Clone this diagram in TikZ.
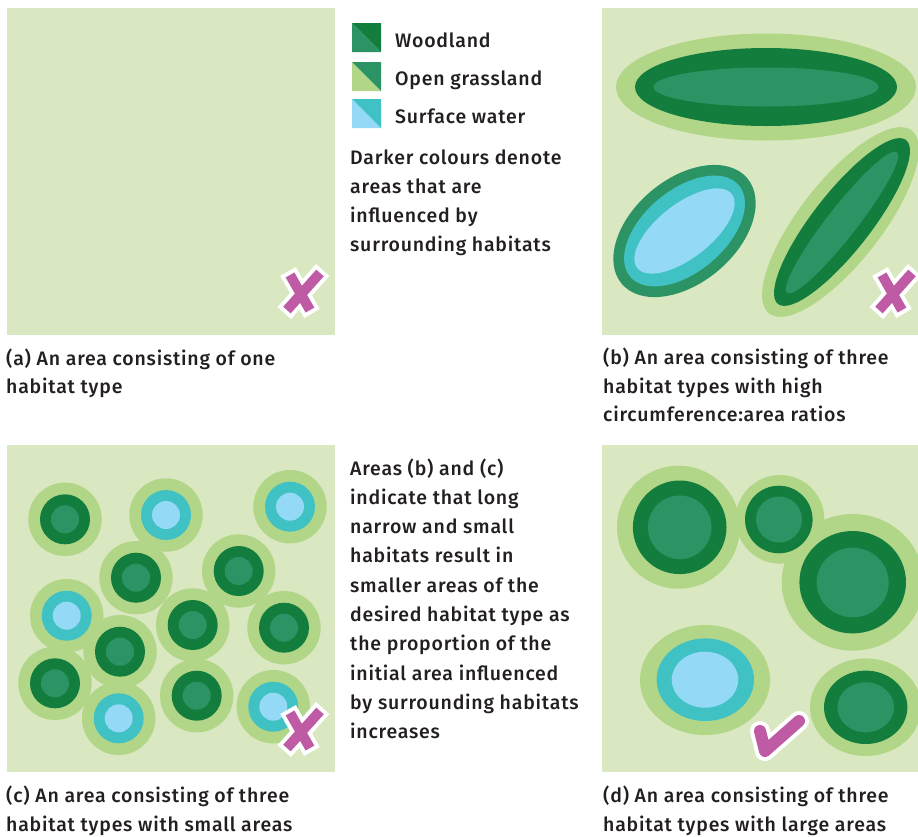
\documentclass[tikz,border=0pt]{standalone}
\usepackage{fontspec}
\setmainfont{Fira Sans Medium}[LetterSpace=4.0]
\definecolor{bgc}{HTML}{D9E8C0}
\definecolor{clight}{HTML}{B2D687}
\definecolor{cdark}{HTML}{137D3E}
\definecolor{cmed}{HTML}{2C9464}
\definecolor{ccyan}{HTML}{40C1C4}
\definecolor{cblue}{HTML}{94D9F5}
\definecolor{cmag}{HTML}{BE5BA4}
\definecolor{textc}{HTML}{231F20}
\tikzset{
  txt/.style={anchor=base west, inner sep=0pt, font=\fontsize{19.5}{29}\selectfont, text=textc},
  xmark/.pic={
    \draw[white, line width=18pt, line cap=rect] (13.7,-15.3) -- (-12.7,14.3);
    \draw[white, line width=18pt, line cap=rect] (-10.5,-12.7) -- (4.5,13.7);
    \draw[cmag, line width=10pt, line cap=rect] (13.7,-15.3) -- (-12.7,14.3);
    \draw[cmag, line width=10pt, line cap=rect] (-10.5,-12.7) -- (4.5,13.7);
  }
}
\begin{document}
\begin{tikzpicture}[x=1pt,y=-1pt]
\useasboundingbox (0,0) rectangle (918,836);
\fill[white] (0,0) rectangle (918,836);
% panels
\fill[bgc] (7,8) rectangle (335,335);
\fill[bgc] (602,8) rectangle (918,335);
\fill[bgc] (7,445) rectangle (335,772);
\fill[bgc] (602,445) rectangle (918,772);

% ---- panel (b)
\fill[clight] (766,87) ellipse [x radius=150, y radius=53.5];
\fill[cdark] (766,87) ellipse [x radius=131, y radius=39];
\fill[cmed] (766,87) ellipse [x radius=112.5, y radius=19.5];
\fill[cmed, rotate around={40:(684.5,231)}] (684.5,231) ellipse [x radius=82, y radius=52];
\fill[ccyan, rotate around={40:(684.5,231)}] (684.5,231) ellipse [x radius=71, y radius=41];
\fill[cblue, rotate around={38:(684.5,231)}] (684.5,231) ellipse [x radius=60, y radius=27];
\fill[clight, rotate around={52:(840.5,222)}] (840.5,222) ellipse [x radius=116, y radius=41];
\fill[cdark, rotate around={52:(842,222)}] (842,222) ellipse [x radius=104, y radius=29];
\fill[cmed, rotate around={52:(842,222.5)}] (842,222.5) ellipse [x radius=89, y radius=15];

% ---- panel (c)
\foreach \x/\y in {65/519.3,136/577.7,238.7/571,192.7/625,284/627.7,120/651.7,55/683.3,196.7/695.7,166/515,290/506.7,66.7/615.7,118.7/718.3,273.3/706.7}
  \fill[clight] (\x,\y) circle (36.7);
\foreach \x/\y in {65/519.3,136/577.7,238.7/571,192.7/625,284/627.7,120/651.7,55/683.3,196.7/695.7}{
  \fill[cdark] (\x,\y) circle (25);
  \fill[cmed] (\x,\y) circle (14);
}
\foreach \x/\y in {166/515,290/506.7,66.7/615.7,118.7/718.3,273.3/706.7}{
  \fill[ccyan] (\x,\y) circle (25);
  \fill[cblue] (\x,\y) circle (14);
}

% ---- panel (d)
\fill[clight] (678.5,527.2) circle (61.5);
\fill[clight] (780,519.3) circle (44.3);
\fill[clight] (852.7,582.3) ellipse [x radius=71, y radius=68.3];
\fill[clight] (705,680) ellipse [x radius=65, y radius=55];
\fill[clight] (865.7,707.2) ellipse [x radius=55.7, y radius=48.8];
\fill[cdark] (679.7,527.3) circle (46.8);
\fill[cmed] (679.7,527.3) circle (31.8);
\fill[cdark] (778.8,519.5) circle (33.8);
\fill[cmed] (779,519.5) circle (23);
\fill[cdark] (852.7,582.2) ellipse [x radius=53.3, y radius=51.2];
\fill[cmed] (852.7,582.5) ellipse [x radius=36, y radius=34.8];
\fill[ccyan] (705.3,679.7) ellipse [x radius=48.7, y radius=41.3];
\fill[cblue] (705,679.7) ellipse [x radius=33.3, y radius=28];
\fill[cdark] (865.7,707.3) ellipse [x radius=41.7, y radius=36.7];
\fill[cmed] (865.7,707.3) ellipse [x radius=28.3, y radius=25];

% ---- marks
\pic at (303,292) {xmark};
\pic at (895,292) {xmark};
\pic at (303,730) {xmark};
\draw[white, line width=20pt, line cap=round, line join=round] (760,731) -- (765,751) -- (799,721);
\draw[cmag, line width=12pt, line cap=round, line join=round] (760,731) -- (765,751) -- (799,721);

% ---- legend
\fill[cmed] (352,23) -- (352,52) -- (381,52) -- cycle;
\fill[cdark] (352,23) -- (381,23) -- (381,52) -- cycle;
\fill[clight] (352,62) -- (352,91) -- (381,91) -- cycle;
\fill[cmed] (352,62) -- (381,62) -- (381,91) -- cycle;
\fill[cblue] (352,99) -- (352,128) -- (381,128) -- cycle;
\fill[ccyan] (352,99) -- (381,99) -- (381,128) -- cycle;
\node[txt] (lw) at (395,47) {Woodland};
\node[txt] (lg) at (395,85.5) {Open grassland};
\node[txt] (ls) at (395,123) {Surface water};

% ---- texts
\node[txt] (p1a) at (350,164) {Darker colours denote};
\node[txt] (p1b) at (350,193) {areas that are};
\node[txt] (p1c) at (350,222) {influenced by};
\node[txt] (p1d) at (350,251) {surrounding habitats};

\node[txt] (ca1) at (6,365) {(a) An area consisting of one};
\node[txt] (ca2) at (6,393.5) {habitat type};
\node[txt] (cb1) at (603,364.7) {(b) An area consisting of three};
\node[txt] (cb2) at (603,393) {habitat types with high};
\node[txt] (cb3) at (603,421) {circumference:area ratios};
\node[txt] (cc1) at (6,802.7) {(c) An area consisting of three};
\node[txt] (cc2) at (6,831) {habitat types with small areas};
\node[txt] (cd1) at (603,802.7) {(d) An area consisting of three};
\node[txt] (cd2) at (603,831) {habitat types with large areas};

\foreach \t [count=\i from 0] in {Areas (b) and (c),indicate that long,narrow and small,habitats result in,smaller areas of the,desired habitat type as,the proportion of the,initial area influenced,by surrounding habitats,increases}
  \node[txt] (p2\i) at (350,475+29.3*\i) {\t};
\end{tikzpicture}
\end{document}
